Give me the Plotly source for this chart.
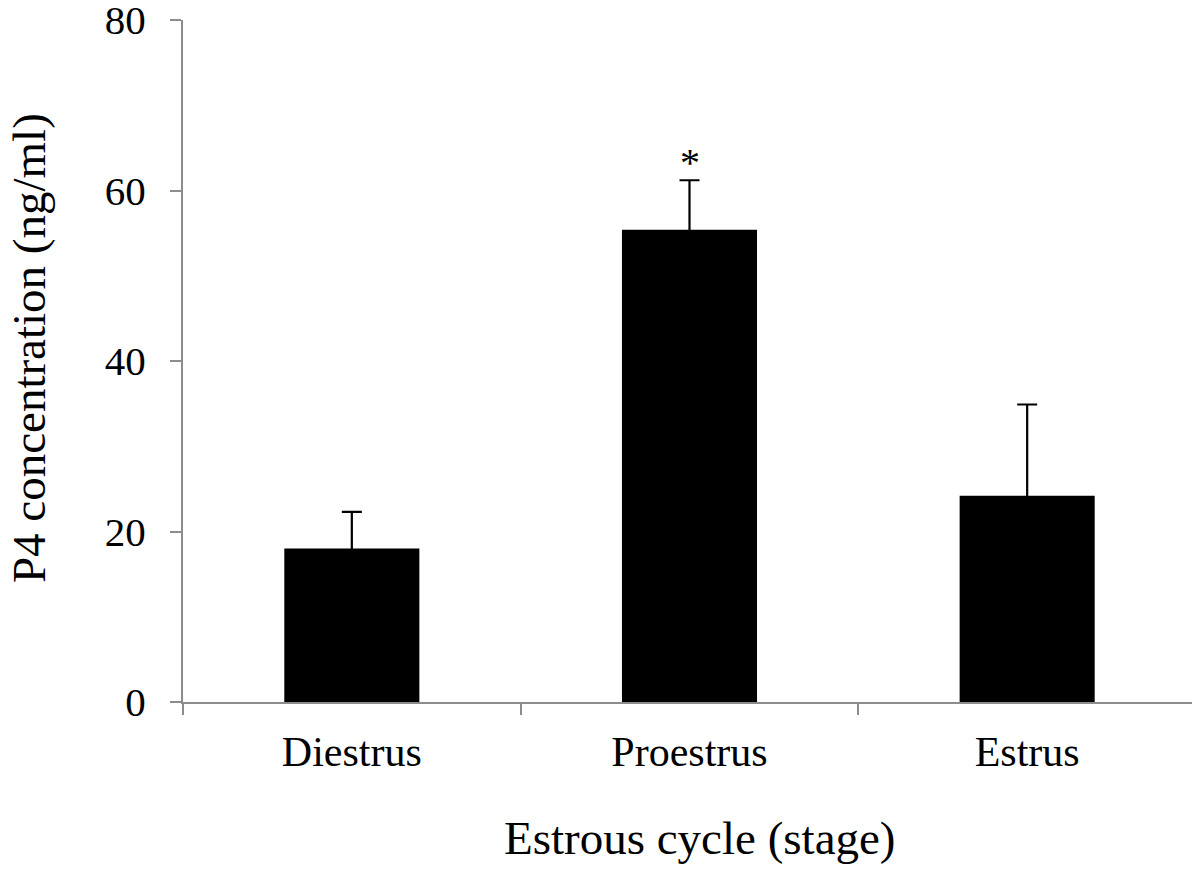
import plotly.graph_objects as go

categories = ["Diestrus", "Proestrus", "Estrus"]
means = [18.0, 55.4, 24.2]
sem = [4.3, 5.8, 10.7]
sig_labels = ["", "*", ""]
y_ticks = [0, 20, 40, 60, 80]

FONT = "Liberation Serif, Times New Roman, serif"
AXIS_COLOR = "#8c8c8c"

fig = go.Figure()
fig.add_trace(go.Bar(
    x=categories, y=means, width=0.4,
    marker=dict(color="black", line=dict(width=0)),
    error_y=dict(type="data", symmetric=True, array=sem, color="black",
                 thickness=2.2, width=10),
    showlegend=False,
))

for c, m, s, lab in zip(categories, means, sem, sig_labels):
    if lab:
        fig.add_annotation(x=c, y=m + s, text=lab, showarrow=False,
                           yanchor="bottom", yshift=-7,
                           font=dict(family=FONT, size=40, color="black"))

# axis titles as annotations (exact placement)
fig.add_annotation(xref="paper", yref="paper", x=-0.152, y=0.519,
                   text="P4 concentration (ng/ml)", textangle=-90,
                   showarrow=False, xanchor="center", yanchor="middle",
                   font=dict(family=FONT, size=47, color="black"))
fig.add_annotation(xref="paper", yref="paper", x=0.5104, y=-0.199,
                   text="Estrous cycle (stage)",
                   showarrow=False, xanchor="center", yanchor="middle",
                   font=dict(family=FONT, size=47, color="black"))

fig.update_layout(
    width=1192, height=864,
    margin=dict(l=175, r=4, t=12, b=170),
    paper_bgcolor="white", plot_bgcolor="white",
    font=dict(family=FONT, color="black"),
    bargap=0.6,
)
fig.update_xaxes(
    range=[-0.5, 2.5], showline=True, linecolor=AXIS_COLOR, linewidth=2,
    ticks="outside", tickson="boundaries", ticklen=11, tickwidth=2,
    tickcolor=AXIS_COLOR, showgrid=False, zeroline=False, automargin=False,
    tickfont=dict(family=FONT, size=42, color="black"),
    ticklabelstandoff=12, ticklabeloverflow="allow",
)
fig.update_yaxes(
    range=[0, 80], tickvals=y_ticks, showline=True, linecolor=AXIS_COLOR,
    linewidth=2, ticks="outside", ticklen=11, tickwidth=2,
    tickcolor=AXIS_COLOR, showgrid=False, zeroline=False, automargin=False,
    tickfont=dict(family=FONT, size=41, color="black"),
    ticklabelstandoff=16, ticklabeloverflow="allow",
)

fig.write_html("out.html")
